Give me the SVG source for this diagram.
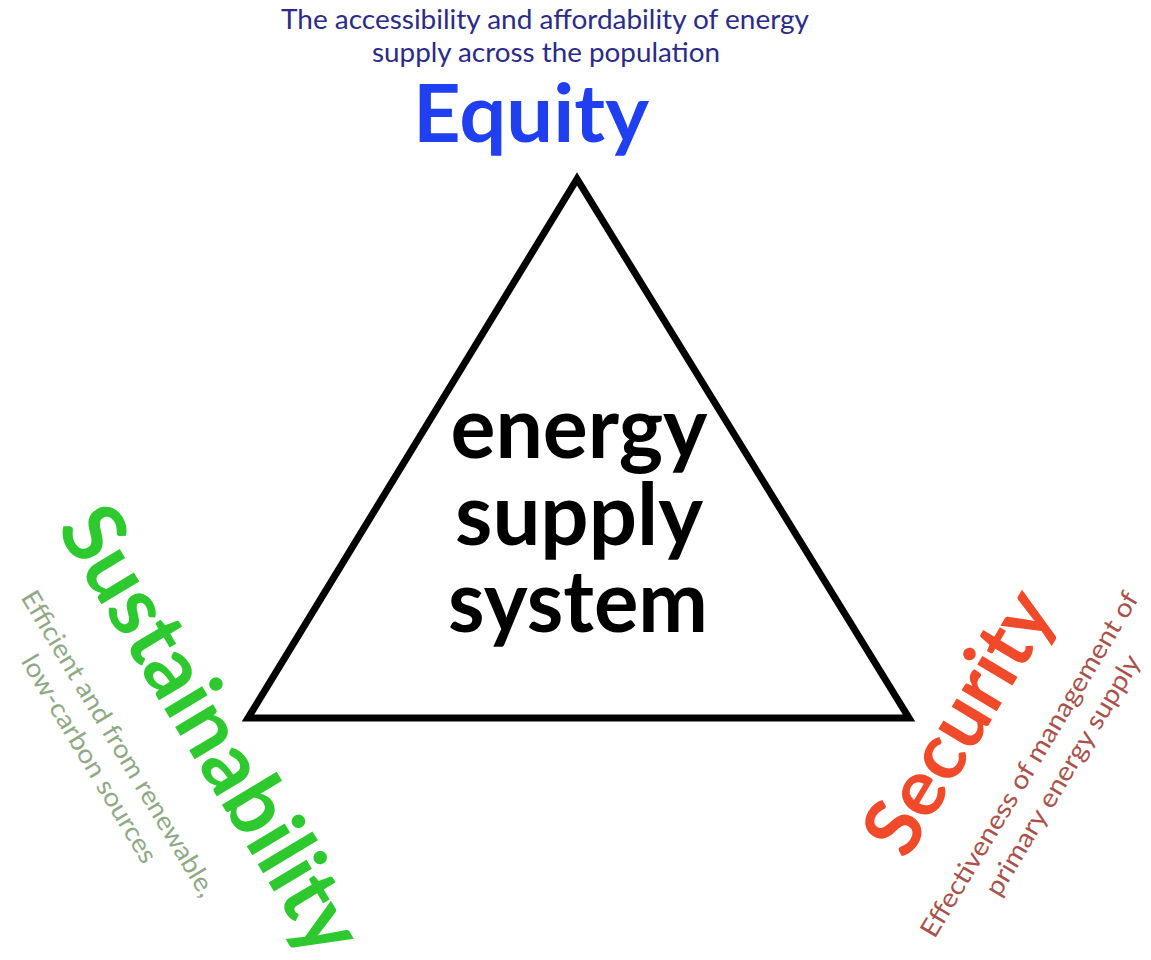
<svg xmlns="http://www.w3.org/2000/svg" width="1151" height="960" viewBox="0 0 1151 960">
  <style>
    .title { font-family: Lato, "Open Sans", "Liberation Sans", sans-serif; font-weight: bold; text-anchor: middle; }
    .note  { font-family: Lato, "Open Sans", "Liberation Sans", sans-serif; font-weight: normal; font-size: 26px; text-anchor: middle; }
    .core  { font-family: Lato, "Open Sans", "Liberation Sans", sans-serif; font-weight: bold; font-size: 86px; fill: #000000; text-anchor: middle; }
  </style>
  <rect width="1151" height="960" fill="#ffffff"/>

  <!-- central triangle -->
  <g id="triangle">
    <polygon points="577,179 248,718 909,718" fill="#ffffff" stroke="#000000" stroke-width="7" stroke-linejoin="miter"/>
    <text class="core" x="579" y="458" textLength="257" lengthAdjust="spacingAndGlyphs">energy</text>
    <text class="core" x="579" y="545" textLength="248" lengthAdjust="spacingAndGlyphs">supply</text>
    <text class="core" x="578" y="632" textLength="260" lengthAdjust="spacingAndGlyphs">system</text>
  </g>

  <!-- top corner: equity -->
  <g id="equity">
    <text class="note" x="545" y="29" fill="#2b2b88" textLength="528" lengthAdjust="spacingAndGlyphs">The accessibility and affordability of energy</text>
    <text class="note" x="546" y="62" fill="#2b2b88" textLength="348" lengthAdjust="spacingAndGlyphs">supply across the population</text>
    <text class="title" x="531" y="142" font-size="80" fill="#1f3ff0" textLength="236" lengthAdjust="spacingAndGlyphs">Equity</text>
  </g>

  <!-- left corner: sustainability -->
  <g id="sustainability">
    <text class="title" transform="translate(186,745) rotate(59)" font-size="86" fill="#2ec92e" textLength="505" lengthAdjust="spacingAndGlyphs">Sustainability</text>
    <g transform="translate(111,748) rotate(59)" fill="#8fa886">
      <text class="note" x="0" y="0" textLength="352" lengthAdjust="spacingAndGlyphs">Efficient and from renewable,</text>
      <text class="note" x="-2" y="33" textLength="238" lengthAdjust="spacingAndGlyphs">low-carbon sources</text>
    </g>
  </g>

  <!-- right corner: security -->
  <g id="security">
    <text class="title" transform="translate(982,736) rotate(-59)" font-size="80" fill="#f04a2a" textLength="292" lengthAdjust="spacingAndGlyphs">Security</text>
    <g transform="translate(1037,769) rotate(-59)" fill="#a8524c">
      <text class="note" x="0" y="0" textLength="398" lengthAdjust="spacingAndGlyphs">Effectiveness of management of</text>
      <text class="note" x="8" y="34" textLength="276" lengthAdjust="spacingAndGlyphs">primary energy supply</text>
    </g>
  </g>

  <!-- no connectors in this figure -->
  <g id="connectors"/>
</svg>
